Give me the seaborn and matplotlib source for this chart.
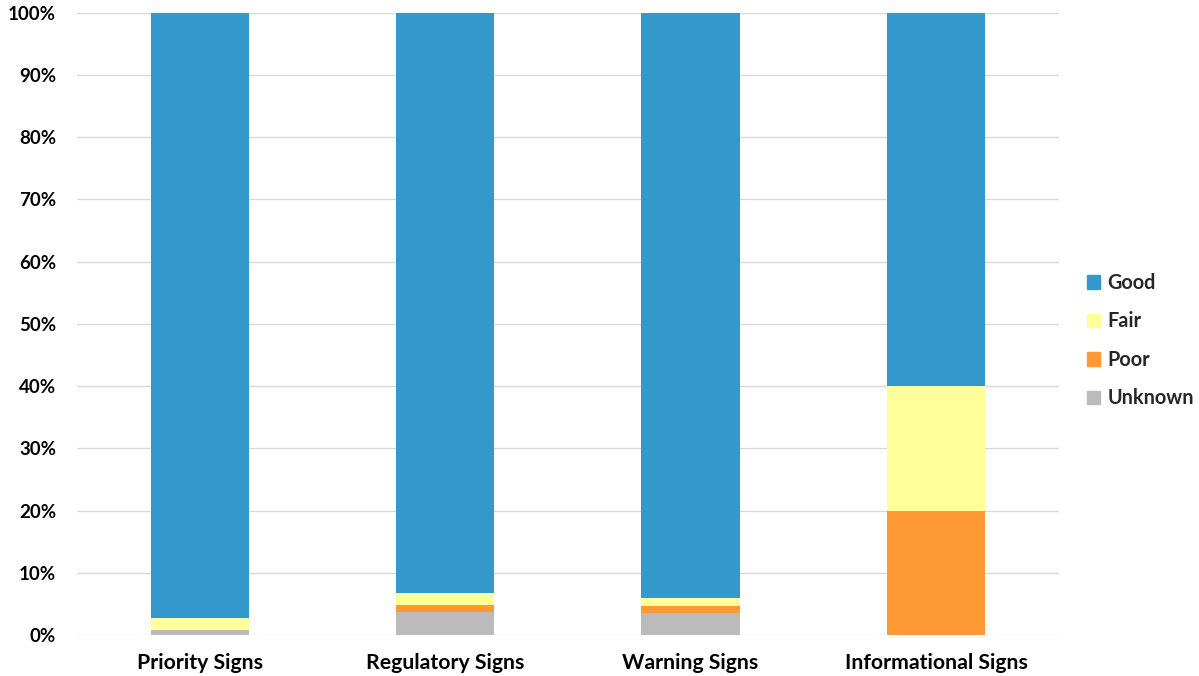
import matplotlib
matplotlib.use("Agg")
import matplotlib.pyplot as plt
import matplotlib.patches as mpatches
import seaborn as sns
import numpy as np
import pandas as pd

categories = ["Priority Signs", "Regulatory Signs", "Warning Signs", "Informational Signs"]
unknown = [0.8, 3.7, 3.6, 0.0]
poor = [0.0, 1.1, 1.1, 20.0]
fair = [2.0, 1.9, 1.3, 20.0]
good = [97.2, 93.3, 94.0, 60.0]

series_names = ["Good", "Fair", "Poor", "Unknown"]
colors = {"Good": "#3399CC", "Fair": "#FFFF99", "Poor": "#FF9933", "Unknown": "#BBBBBB"}

sns.set_theme(style="white")
plt.rcParams["font.family"] = ["Lato", "DejaVu Sans"]

fig = plt.figure(figsize=(11.99, 6.76), dpi=100)
ax = fig.add_axes([0.0642, 0.0607, 0.8188, 0.9203])

# Stack layers bottom-up: Unknown, Poor, Fair, Good
layers = [("Unknown", unknown), ("Poor", poor), ("Fair", fair), ("Good", good)]
cum = np.zeros(len(categories))
tops = []
for name, vals in layers:
    cum = cum + np.array(vals)
    tops.append((name, cum.copy()))

# Draw tallest cumulative bar first so the lower layers overlay it
for name, top in reversed(tops):
    df = pd.DataFrame({"cat": categories, "val": top})
    sns.barplot(data=df, x="cat", y="val", color=colors[name], width=0.4,
                saturation=1, ax=ax, linewidth=0)

ax.set_ylim(0, 100)
ax.set_xlim(-0.5, 3.5)
ax.set_yticks(np.arange(0, 101, 10))
ax.set_yticklabels([f"{v}%" for v in range(0, 101, 10)], fontsize=13.5, fontweight="bold")
ax.set_xticklabels(categories, fontsize=15.3, fontweight="bold")
ax.set_xlabel("")
ax.set_ylabel("")
ax.yaxis.grid(True, color="#D9D9D9", linewidth=1)
ax.set_axisbelow(True)
for s in ax.spines.values():
    s.set_visible(False)
ax.tick_params(axis="y", length=0, pad=15, colors="black")
ax.tick_params(axis="x", length=0, pad=13, colors="black")

handles = [mpatches.Patch(color=colors[n], label=n) for n in series_names]
leg = fig.legend(handles=handles, loc="center left", bbox_to_anchor=(0.892, 0.496),
                 frameon=False, handlelength=0.65, handleheight=0.65, handletextpad=0.35,
                 labelspacing=0.93, prop={"size": 14.3, "weight": "bold"})

fig.savefig("out.png", dpi=100)
